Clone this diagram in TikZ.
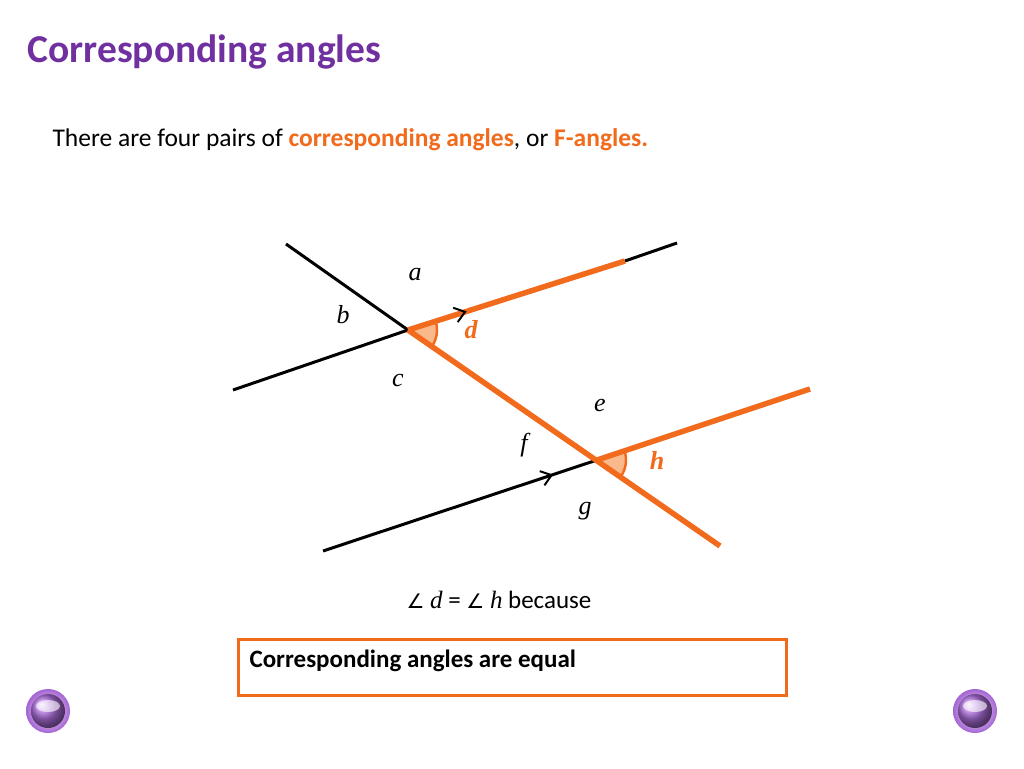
\documentclass[tikz,border=0pt]{standalone}
\usepackage{fontspec}
\setmainfont{Carlito}
\newfontfamily\tnr{Liberation Serif}
\newfontfamily\djv{DejaVu Sans}
\usetikzlibrary{arrows.meta,decorations.markings,calc}
\definecolor{ttl}{HTML}{7030A0}
\definecolor{org}{HTML}{F26B1D}
\definecolor{lorg}{HTML}{F9B98A}
\definecolor{btn}{HTML}{B070E0}
\tikzset{
 blk/.style={line width=3pt,black},
 orl/.style={line width=5.5pt,org},
 lbl/.style={font=\tnr\itshape\fontsize{26}{28}\selectfont},
 olbl/.style={font=\tnr\itshape\bfseries\fontsize{26}{28}\selectfont,text=org},
 arr/.style={postaction={decorate},decoration={markings,mark=at position #1 with {\arrow[black,line width=2pt]{Straight Barb[length=10pt,width=15pt]}}}}
}
\begin{document}
\begin{tikzpicture}[x=1pt,y=-1pt]
\useasboundingbox[fill=white] (0,0) rectangle (1024,768);
\node[anchor=west,text=ttl,font=\bfseries\fontsize{39.5}{44}\selectfont] (title) at (24,52) {Corresponding angles};
\node[anchor=west,font=\fontsize{25.5}{30}\selectfont] (sub) at (49,140) {There are four pairs of \textcolor{org}{\bfseries corresponding angles}, or \textcolor{org}{\bfseries F-angles.}};
\coordinate (P) at (408,330);
\coordinate (Q) at (597,460);
\coordinate (U1) at (233,390); \coordinate (U2) at (625,261); \coordinate (U3) at (677,243);
\coordinate (T1) at (286,244); \coordinate (T2) at (720,546);
\coordinate (L1) at (323,551); \coordinate (L2) at (810,389);
\fill[lorg] (P) -- ($(P)!29pt!(U2)$) arc[start angle=-17.6,end angle=34.7,radius=29] -- cycle;
\draw[org,line width=2.5pt] ($(P)!29pt!(U2)$) arc[start angle=-17.6,end angle=34.7,radius=29];
\fill[lorg] (Q) -- ($(Q)!29pt!(L2)$) arc[start angle=-18.4,end angle=34.7,radius=29] -- cycle;
\draw[org,line width=2.5pt] ($(Q)!29pt!(L2)$) arc[start angle=-18.4,end angle=34.7,radius=29];
\draw[blk] (U1) -- (P);
\draw[blk] (U2) -- (U3);
\draw[blk] (T1) -- (P);
\draw[blk,arr=0.84] (L1) -- (Q);
\draw[orl] (P) -- (U2);
\path[arr=0.27] (P) -- (U2);
\draw[orl] (P) -- (T2);
\draw[orl] (Q) -- (L2);
\node[lbl] (a) at (415,275) {a};
\node[lbl] (b) at (343,315) {b};
\node[lbl] (c) at (398,380) {c};
\node[olbl] (d) at (471,330) {d};
\node[lbl] (e) at (600,405) {e};
\node[lbl] (f) at (524,445) {f};
\node[lbl] (g) at (585,511) {g};
\node[olbl] (h) at (657,460) {h};
\node[font=\fontsize{25}{30}\selectfont] (eq) at (499,600) {{\djv\fontsize{20}{24}\selectfont ∠} {\tnr\itshape d} = {\djv\fontsize{20}{24}\selectfont ∠} {\tnr\itshape h} because};
\draw[org,line width=3pt] (238,639) rectangle (786,695);
\node[anchor=west,font=\bfseries\fontsize{25}{30}\selectfont] (ans) at (246,661) {Corresponding angles are equal};
\foreach \n/\x in {bl/48,br/975}{
 \shade[inner color=white,outer color=btn!80!ttl] (\x,711) circle (22pt);
 \shade[ball color=btn] (\x,711) circle (17pt);
 \fill[white,opacity=0.6] (\x,706) ellipse (12pt and 6pt);
 \node[circle,minimum size=2pt] (\n) at (\x,711) {};
}
\end{tikzpicture}
\end{document}
